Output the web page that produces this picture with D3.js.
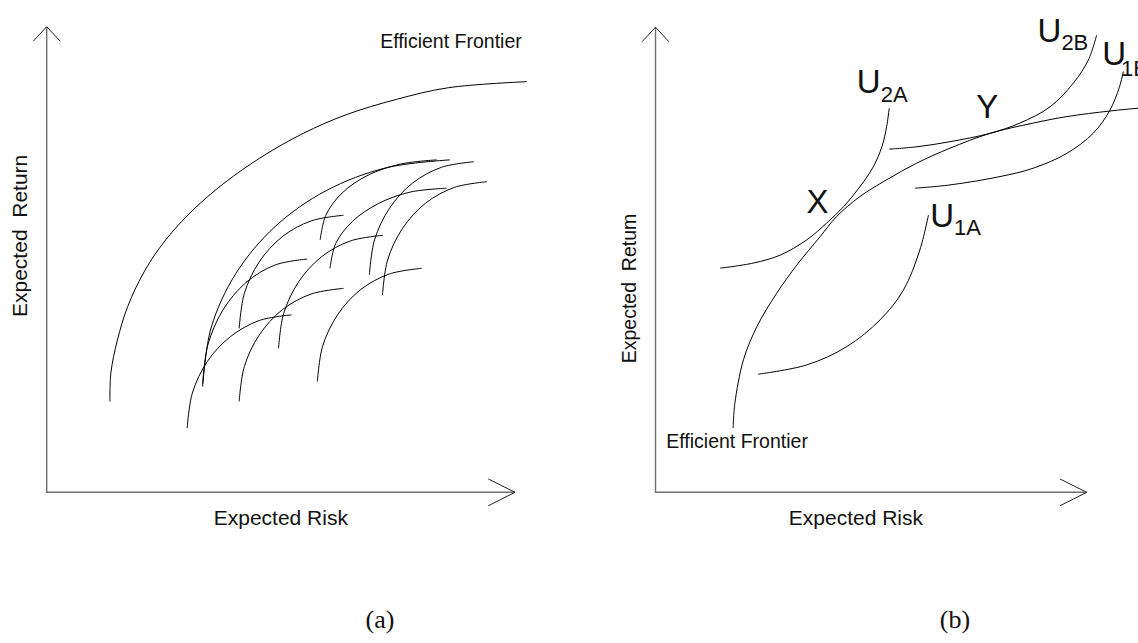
<!DOCTYPE html>
<html>
<head>
<meta charset="utf-8">
<script src="https://cdn.jsdelivr.net/npm/d3@7"></script>
<style>
  body { margin: 0; background: #fff; }
  svg text { font-family: "Liberation Sans", Arial, sans-serif; fill: #111; }
</style>
</head>
<body>
<svg id="chart" width="1138" height="643"></svg>
<script>
// all values are in axis units: 0 = origin, 100 = arrow tip

// ---- panel (a) ----
const frontierA = [
  [13.5, 19.5], [13.7, 25.6], [15.1, 32.7], [17.3, 39.9], [21.0, 47.7], [25.4, 54.2], [31.2, 60.6],
  [37.9, 66.4], [46.0, 72.1], [54.8, 77.1], [63.7, 81.0], [74.7, 84.4], [85.8, 86.9], [102.5, 88.2]
];
// curves under the frontier
const curvesA = [
  [[33.3, 22.7], [35.1, 35.3], [40.4, 47.0], [48.8, 57.1], [59.7, 64.8], [72.5, 69.7], [86.1, 71.4]],
  [[58.4, 54.2], [59.6, 59.5], [63.1, 64.3], [68.6, 68.1], [75.6, 70.5], [83.3, 71.4]],
  [[60.5, 48.1], [61.7, 53.4], [65.3, 58.2], [70.8, 62.0], [77.7, 64.5], [85.4, 65.3]],
  [[30.0, 13.8], [31.1, 21.3], [34.3, 28.1], [39.2, 33.4], [45.4, 36.9], [52.3, 38.1]],
  [[41.1, 19.5], [42.2, 27.0], [45.4, 33.8], [50.3, 39.2], [56.5, 42.6], [63.4, 43.8]],
  [[41.1, 35.2], [42.2, 42.7], [45.4, 49.5], [50.3, 54.9], [56.5, 58.3], [63.4, 59.5]],
  [[49.5, 30.9], [50.6, 38.4], [53.8, 45.2], [58.7, 50.6], [64.9, 54.0], [71.8, 55.2]],
  [[57.8, 23.8], [58.9, 31.3], [62.1, 38.1], [67.0, 43.5], [73.2, 46.9], [80.1, 48.1]],
  [[68.9, 46.7], [70.0, 54.2], [73.2, 61.0], [78.1, 66.4], [84.3, 69.8], [91.2, 71.0]],
  [[71.7, 42.4], [72.8, 49.9], [76.0, 56.7], [80.9, 62.1], [87.1, 65.5], [94.0, 66.7]],
  [[33.3, 23.3], [34.4, 31.6], [37.6, 39.1], [42.5, 45.0], [48.7, 48.8], [55.6, 50.1]]
];
const frontierLabelA = [71.2, 95.4];

// ---- panel (b) ----
const frontierB = [
  [18.0, 13.8], [18.4, 19.1], [20.4, 28.5], [23.5, 35.6], [28.1, 42.8], [32.8, 48.9], [38.2, 55.0],
  [42.0, 59.3], [47.4, 63.6], [53.6, 67.2], [60.6, 70.8], [68.3, 74.0], [77.6, 77.2], [87.6, 79.4],
  [95.4, 80.8], [105.4, 82.0], [111.9, 82.6], [114.7, 82.8]
];
const u2A = [
  [15.0, 48.2], [22.7, 49.3], [28.9, 51.0], [35.1, 54.3], [39.7, 57.9], [43.6, 61.4],
  [47.4, 65.7], [50.5, 70.0], [52.5, 74.3], [53.6, 78.6], [54.2, 82.6]
];
const u2B = [
  [54.2, 73.8], [60.6, 74.3], [68.3, 75.4], [77.6, 77.2], [84.5, 79.4], [91.5, 82.9],
  [96.9, 88.0], [100.4, 93.0], [102.3, 98.3]
];
const u1B = [
  [60.2, 65.4], [68.3, 66.1], [79.9, 67.9], [87.6, 69.7], [95.4, 72.9], [101.5, 77.2],
  [105.4, 82.2], [107.6, 87.2], [108.5, 90.5]
];
const u1A = [
  [23.8, 25.4], [35.1, 27.4], [44.3, 31.3], [52.1, 37.1], [57.5, 43.5], [61.3, 52.1], [63.3, 59.6]
];
const pointLabelsB = [["X", 35.0, 60.0], ["Y", 74.4, 80.4]];
const curveLabelsB = [["2A", 46.7, 85.8], ["2B", 88.6, 96.9], ["1B", 103.6, 91.9], ["1A", 63.7, 57.1]];
const frontierLabelB = [2.5, 9.5];

const svg = d3.select('#chart');

const xA = d3.scaleLinear().domain([0, 100]).range([46.7, 515]);
const yA = d3.scaleLinear().domain([0, 100]).range([492.3, 26.7]);
const xB = d3.scaleLinear().domain([0, 100]).range([655.5, 1086.7]);
const yB = d3.scaleLinear().domain([0, 100]).range([492.3, 27.3]);

function drawAxes(x, y) {
  const g = svg.append('g');
  g.append('path')
    .attr('d', `M${x(0)},${y(100)}V${y(0)}H${x(100)}`)
    .attr('fill', 'none')
    .attr('stroke', '#6e6e6e')
    .attr('stroke-width', 1.4);
  // arrow heads
  g.append('path')
    .attr('d', `M${x(0) - 13.5},${y(100) + 14.5}L${x(0)},${y(100)}L${x(0) + 13.5},${y(100) + 14.5}` +
      `M${x(100) - 26.7},${y(0) - 13.3}L${x(100)},${y(0)}L${x(100) - 26.7},${y(0) + 13.5}`)
    .attr('fill', 'none')
    .attr('stroke', '#222')
    .attr('stroke-width', 1);
}

function drawCurve(pts, x, y) {
  const line = d3.line()
    .x(d => x(d[0]))
    .y(d => y(d[1]))
    .curve(d3.curveCatmullRom.alpha(0.5));
  svg.append('path')
    .attr('d', line(pts))
    .attr('fill', 'none')
    .attr('stroke', '#000')
    .attr('stroke-width', 1);
}

// panel (a)
drawAxes(xA, yA);
drawCurve(frontierA, xA, yA);
curvesA.forEach(c => drawCurve(c, xA, yA));

svg.append('text')
  .attr('x', xA(frontierLabelA[0])).attr('y', yA(frontierLabelA[1]))
  .style('font-size', '19.5px')
  .text('Efficient Frontier');

svg.append('text')
  .attr('x', xA(50)).attr('y', 525)
  .attr('text-anchor', 'middle')
  .style('font-size', '21px')
  .text('Expected Risk');

svg.append('text')
  .attr('transform', 'translate(27,317) rotate(-90)')
  .style('font-size', '21px')
  .style('white-space', 'pre')
  .text('Expected  Return');

// panel (b)
drawAxes(xB, yB);
drawCurve(frontierB, xB, yB);
[u2A, u2B, u1B, u1A].forEach(c => drawCurve(c, xB, yB));

svg.append('text')
  .attr('x', xB(frontierLabelB[0])).attr('y', yB(frontierLabelB[1]))
  .style('font-size', '19.5px')
  .text('Efficient Frontier');

svg.append('text')
  .attr('x', 923).attr('y', 525)
  .attr('text-anchor', 'end')
  .style('font-size', '21px')
  .text('Expected Risk');

svg.append('text')
  .attr('transform', 'translate(635.5,363.3) rotate(-90)')
  .style('font-size', '19.5px')
  .style('white-space', 'pre')
  .text('Expected  Retum');

pointLabelsB.forEach(d => {
  svg.append('text')
    .attr('x', xB(d[1])).attr('y', yB(d[2]))
    .style('font-size', '33px')
    .text(d[0]);
});

curveLabelsB.forEach(d => {
  const t = svg.append('text')
    .attr('x', xB(d[1])).attr('y', yB(d[2]))
    .style('font-size', '33px');
  t.append('tspan').text('U');
  t.append('tspan')
    .attr('dx', d[0] === '1B' ? -5 : 0)
    .attr('dy', d[0] === '1B' ? 11 : 8.3)
    .style('font-size', '22px')
    .text(d[0]);
});

// captions
svg.append('text')
  .attr('x', 380).attr('y', 628)
  .attr('text-anchor', 'middle')
  .style('font-family', '"Liberation Serif", "Times New Roman", serif')
  .style('font-size', '26px')
  .text('(a)');

svg.append('text')
  .attr('x', 955).attr('y', 628)
  .attr('text-anchor', 'middle')
  .style('font-family', '"Liberation Serif", "Times New Roman", serif')
  .style('font-size', '26px')
  .text('(b)');
</script>
</body>
</html>
